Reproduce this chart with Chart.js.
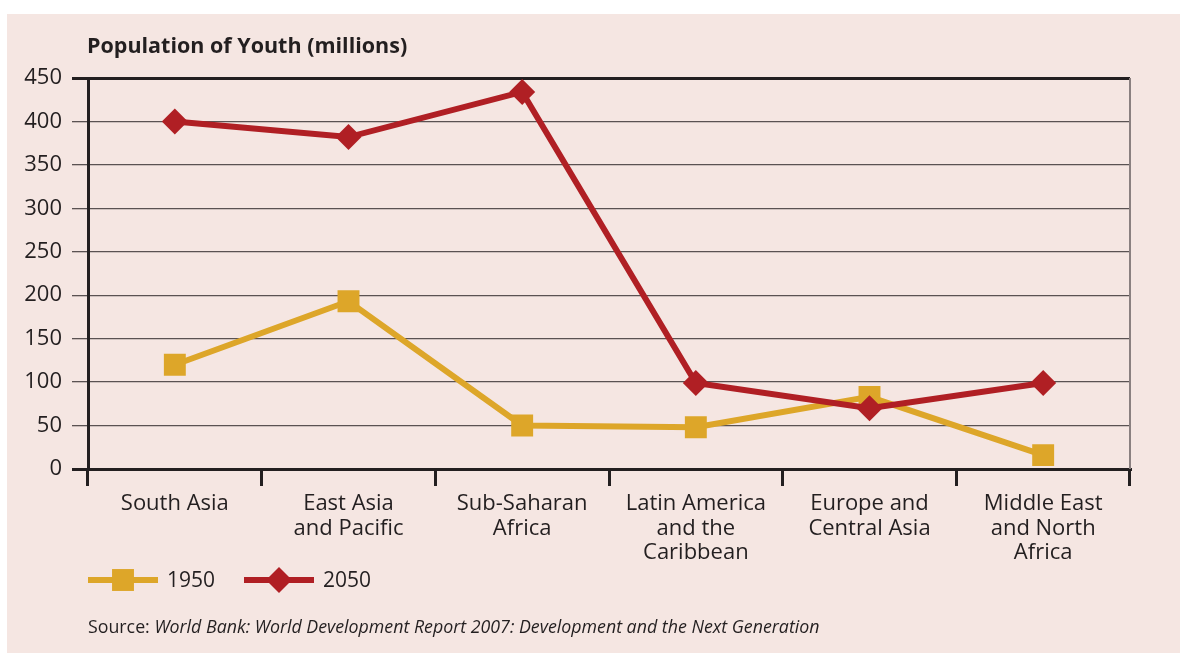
<!DOCTYPE html>
<html>
<head>
<meta charset="utf-8">
<script src="https://cdn.jsdelivr.net/npm/chart.js@4.4.1/dist/chart.umd.min.js"></script>
<style>
  html, body { margin: 0; padding: 0; background: #ffffff; }
  #wrap { width: 1180px; height: 653px; }
</style>
</head>
<body>
<div id="wrap"><canvas id="youthChart" width="1180" height="653"></canvas></div>
<script>
// Population of Youth (millions) by region
const regions = ['South Asia', ['East Asia', 'and Pacific'], ['Sub-Saharan', 'Africa'],
  ['Latin America', 'and the', 'Caribbean'], ['Europe and', 'Central Asia'], ['Middle East', 'and North', 'Africa']];
const youth1950 = [120, 193, 50, 48, 83, 16];
const youth2050 = [400, 382, 434, 99, 70, 99];
const yTicks = [0, 50, 100, 150, 200, 250, 300, 350, 400, 450];

const INK = '#231f20';
const GOLD = '#dda629';
const RED = '#b01f24';
const FONT = '"Open Sans"';

// panel, title, right edge, legend and source line
const decor = {
  id: 'decor',
  beforeDraw(chart) {
    const ctx = chart.ctx;
    ctx.save();
    ctx.fillStyle = '#ffffff';
    ctx.fillRect(0, 0, chart.width, chart.height);
    ctx.fillStyle = '#f5e6e2';
    ctx.fillRect(7, 14, chart.width - 7, chart.height - 14);
    ctx.restore();
  },
  beforeDatasetsDraw(chart) {
    const ctx = chart.ctx;
    const a = chart.chartArea;
    ctx.save();
    ctx.strokeStyle = '#8a8080';
    ctx.lineWidth = 2;
    ctx.beginPath();
    ctx.moveTo(a.right, a.top);
    ctx.lineTo(a.right, a.bottom);
    ctx.stroke();
    ctx.restore();
  },
  afterDraw(chart) {
    const ctx = chart.ctx;
    ctx.save();
    ctx.fillStyle = INK;
    ctx.textBaseline = 'alphabetic';
    ctx.font = 'bold 21.5px ' + FONT;
    ctx.fillText('Population of Youth (millions)', 87, 53);

    // legend
    const items = [
      { ds: chart.data.datasets.find(d => d.label === '1950'), x: 88 },
      { ds: chart.data.datasets.find(d => d.label === '2050'), x: 244 }
    ];
    const ly = 580;
    items.forEach(it => {
      ctx.strokeStyle = it.ds.borderColor;
      ctx.lineWidth = it.ds.borderWidth;
      ctx.beginPath();
      ctx.moveTo(it.x, ly);
      ctx.lineTo(it.x + 70, ly);
      ctx.stroke();
      ctx.fillStyle = it.ds.borderColor;
      Chart.helpers.drawPoint(ctx, {
        pointStyle: it.ds.pointStyle, radius: it.ds.pointRadius, borderWidth: 0, rotation: 0
      }, it.x + 35, ly);
      ctx.fillStyle = INK;
      ctx.font = '21px ' + FONT;
      ctx.textBaseline = 'middle';
      ctx.fillText(it.ds.label, it.x + 79, ly + 1);
    });

    // source
    ctx.textBaseline = 'alphabetic';
    ctx.font = '17.8px ' + FONT;
    const s = 'Source: ';
    ctx.fillText(s, 88, 633);
    const w = ctx.measureText(s).width;
    ctx.font = 'italic 17.8px ' + FONT;
    ctx.fillText('World Bank: World Development Report 2007: Development and the Next Generation', 88 + w, 633);
    ctx.restore();
  }
};

new Chart(document.getElementById('youthChart'), {
  type: 'line',
  data: {
    labels: regions,
    datasets: [
      {
        label: '1950',
        data: youth1950,
        borderColor: GOLD,
        backgroundColor: GOLD,
        borderWidth: 6,
        pointStyle: 'rect',
        pointRadius: 15.5,
        pointHoverRadius: 15.5,
        pointBorderWidth: 0,
        tension: 0,
        order: 1
      },
      {
        label: '2050',
        data: youth2050,
        borderColor: RED,
        backgroundColor: RED,
        borderWidth: 6,
        pointStyle: 'rectRot',
        pointRadius: 13,
        pointHoverRadius: 13,
        pointBorderWidth: 0,
        tension: 0,
        order: 0
      }
    ]
  },
  options: {
    responsive: false,
    animation: false,
    layout: { padding: { top: 78, right: 50, bottom: 64, left: 0 } },
    plugins: {
      legend: { display: false },
      title: { display: false },
      tooltip: { enabled: false }
    },
    scales: {
      x: {
        offset: true,
        afterFit: s => { s.height = 120; },
        grid: {
          offset: true,
          drawOnChartArea: false,
          drawTicks: true,
          tickLength: 17,
          lineWidth: 3,
          color: INK
        },
        border: { display: true, color: INK, width: 3 },
        ticks: {
          color: INK,
          padding: 6,
          maxRotation: 0,
          autoSkip: false,
          font: { family: FONT, size: 22, lineHeight: 1.11 }
        }
      },
      y: {
        min: 0,
        max: 450,
        afterFit: s => { s.width = 88; },
        afterBuildTicks: s => { s.ticks = yTicks.map(v => ({ value: v })); },
        grid: {
          tickLength: 16,
          color: c => (c.tick && (c.tick.value === 450 || c.tick.value === 0)) ? INK : '#5a5252',
          lineWidth: c => (c.tick && (c.tick.value === 450 || c.tick.value === 0)) ? 3 : 1.3
        },
        border: { display: true, color: INK, width: 3 },
        ticks: {
          color: INK,
          padding: 10,
          font: { family: FONT, size: 22 }
        }
      }
    }
  },
  plugins: [decor]
});
</script>
</body>
</html>
